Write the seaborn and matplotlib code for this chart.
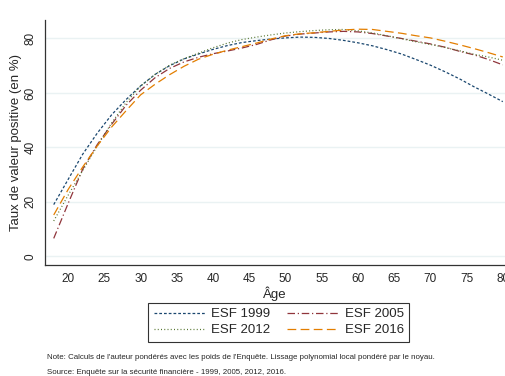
import numpy as np
import pandas as pd
import matplotlib
matplotlib.use("Agg")
import matplotlib.pyplot as plt
import seaborn as sns

# ages and smoothed rates
ages = [18, 20, 22, 24, 26, 28, 30, 32, 34, 36, 38, 40, 42, 44, 46, 48,
        50, 52, 54, 56, 58, 60, 62, 64, 66, 68, 70, 72, 74, 76, 78, 80]
esf_1999 = [19.0, 28.3, 37.5, 45.2, 52.0, 57.6, 62.6, 66.8, 70.0, 72.5, 74.3, 76.0,
            77.4, 78.5, 79.2, 79.8, 80.2, 80.5, 80.4, 80.0, 79.3, 78.4, 77.3, 75.9,
            74.3, 72.3, 70.2, 67.8, 65.2, 62.3, 59.6, 56.8]
esf_2005 = [6.6, 19.5, 32.0, 41.0, 48.5, 55.5, 61.0, 65.6, 69.0, 71.4, 73.1, 74.4,
            75.4, 76.5, 77.8, 79.5, 80.9, 81.6, 82.0, 82.4, 82.6, 82.4, 81.8, 80.9,
            80.0, 79.0, 78.0, 76.8, 75.3, 74.0, 72.3, 70.3]
esf_2012 = [13.0, 22.5, 31.5, 40.5, 49.0, 56.5, 62.5, 66.8, 70.2, 72.6, 74.6, 76.6,
            78.3, 79.6, 80.5, 81.3, 82.0, 82.5, 82.9, 83.2, 83.3, 82.8, 82.0, 81.0,
            79.9, 78.8, 77.8, 76.7, 75.5, 74.2, 73.2, 72.0]
esf_2016 = [15.2, 24.6, 32.8, 40.5, 47.5, 53.5, 59.3, 63.2, 66.7, 69.8, 72.4, 74.2,
            75.7, 77.0, 78.3, 79.8, 81.0, 81.7, 82.1, 82.6, 83.1, 83.4, 83.3, 82.6,
            81.9, 81.0, 80.2, 79.0, 77.7, 76.3, 74.8, 73.2]

series = ["ESF 1999", "ESF 2005", "ESF 2012", "ESF 2016"]
colors = {"ESF 1999": "#1a476f", "ESF 2005": "#90353b",
          "ESF 2012": "#55752f", "ESF 2016": "#e37e00"}
dashes = {"ESF 1999": (2.2, 1.6), "ESF 2005": (6, 2.2, 1, 2.2),
          "ESF 2012": (0.8, 1.8), "ESF 2016": (7, 3.5)}

df = pd.concat([
    pd.DataFrame({"age": ages, "taux": vals, "enquete": name})
    for name, vals in zip(series, [esf_1999, esf_2005, esf_2012, esf_2016])
])

sns.set_theme(style="white")
plt.rcParams["font.family"] = ["Liberation Sans", "DejaVu Sans"]

fig = plt.figure(figsize=(5.06, 3.76), dpi=100)
ax = fig.add_axes([0.089, 0.295, 0.909, 0.652])

sns.lineplot(data=df, x="age", y="taux", hue="enquete", style="enquete",
             hue_order=series, style_order=series, palette=colors,
             dashes=dashes, linewidth=0.9, ax=ax)

ax.set_xlim(16.8, 80.3)
ax.set_ylim(-3.2, 86.8)
ax.set_xticks(range(20, 81, 5))
ax.set_yticks([0, 20, 40, 60, 80])
ax.yaxis.grid(True, color="#eaf2f3", linewidth=1)
ax.tick_params(axis="both", direction="out", length=4, width=0.8,
               color="#333333", labelsize=8.5, pad=2)
for lab in ax.get_yticklabels():
    lab.set_rotation(90)
    lab.set_va("center")
for side in ["top", "right"]:
    ax.spines[side].set_visible(False)
for side in ["left", "bottom"]:
    ax.spines[side].set_color("#333333")
    ax.spines[side].set_linewidth(0.9)

ax.set_xlabel("Âge", fontsize=9.5, labelpad=1)
ax.set_ylabel("Taux de valeur positive (en %)", fontsize=9.5, labelpad=2)

handles, labels = ax.get_legend_handles_labels()
ax.get_legend().remove()
# legend fills column by column, so reorder to read 1999 | 2005 / 2012 | 2016
order = [0, 2, 1, 3]
leg = fig.legend([handles[i] for i in order], [labels[i] for i in order],
                 loc="center", ncol=2, bbox_to_anchor=(0.551, 0.143),
                 fontsize=9.5, frameon=True, fancybox=False, edgecolor="black",
                 handlelength=3.9, handletextpad=0.45, columnspacing=1.3,
                 borderpad=0.4, borderaxespad=0, labelspacing=0.3)
leg.get_frame().set_linewidth(0.8)

fig.text(0.093, 0.044, "Note: Calculs de l'auteur pondérés avec les poids de l'Enquête. "
         "Lissage polynomial local pondéré par le noyau.", fontsize=5.7)
fig.text(0.093, 0.006, "Source: Enquête sur la sécurité financière - 1999, 2005, 2012, 2016.",
         fontsize=5.7)

fig.savefig("out.png", dpi=100)
